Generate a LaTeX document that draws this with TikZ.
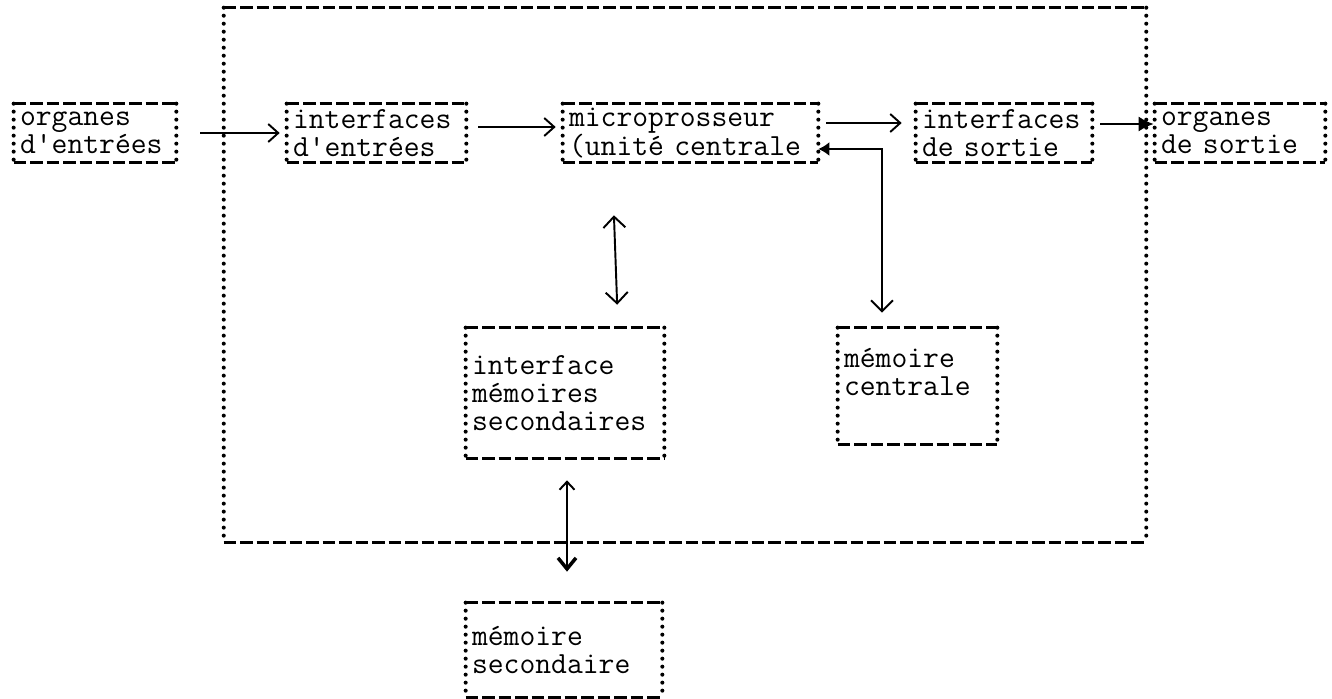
\documentclass[tikz,border=0pt]{standalone}
\usepackage{fontspec}
\usetikzlibrary{arrows.meta, positioning, calc}

% typewriter frames: dashed top and bottom, dotted sides
\tikzset{
    tbox/.style={rectangle, inner xsep=0.12cm, inner ysep=0pt, align=left,
        font={\ttfamily\fontsize{17.5pt}{15.8pt}\selectfont}},
    dashrule/.style={line width=1.5pt, dash pattern=on 0.25cm off 0.08cm},
    dotrule/.style={line width=2.3pt, line cap=round, dash pattern=on 0pt off 0.16cm},
    arrow/.style={-{Straight Barb[length=0.2cm, width=0.36cm]}, line width=1.1pt},
    dblarrow/.style={{Straight Barb[length=0.22cm, width=0.44cm]}-{Straight Barb[length=0.22cm, width=0.44cm]}, line width=1.1pt}
}
\newcommand{\typeframe}[1]{%
    \draw[dashrule] (#1.north west) -- (#1.north east) (#1.south west) -- (#1.south east);
    \draw[dotrule] (#1.north west) -- (#1.south west) (#1.north east) -- (#1.south east);
}

\begin{document}
\begin{tikzpicture}[x=0.02cm, y=-0.02cm]
    \useasboundingbox (0,0) rectangle (1332,699);

    % the computer itself
    \node[tbox, minimum width=18.44cm, minimum height=10.68cm] (ordi) at (685,275) {};
    \typeframe{ordi}

    % top row
    \node[tbox, text width=3.00cm, minimum height=1.16cm] (orgin) at (95,133) {organes\\d'entrées};
    \node[tbox, text width=3.34cm, minimum height=1.16cm] (intin) at (376.5,133) {interfaces\\d'entrées};
    \node[tbox, text width=4.86cm, minimum height=1.16cm] (micro) at (690.5,133) {microprosseur\\(unité centrale};
    \node[tbox, text width=3.28cm, minimum height=1.16cm] (intout) at (1004,133) {interfaces\\de sortie};
    \node[tbox, text width=3.16cm, minimum height=1.16cm] (orgout) at (1240,133) {organes\\de sortie};

    % memories
    \node[tbox, text width=3.72cm, minimum height=2.6cm] (imem) at (565,393) {interface\\mémoires\\secondaires};
    \node[tbox, text width=2.94cm, minimum height=2.32cm] (memc) at (917.5,386) {mémoire\\centrale\\\mbox{}};
    \node[tbox, text width=3.68cm, minimum height=1.88cm] (mems) at (564,650) {mémoire\\secondaire};

    \foreach \b in {orgin, intin, micro, intout, orgout, imem, memc, mems}
        {\typeframe{\b}}

    % data paths
    \draw[arrow, shorten <=0.48cm, shorten >=0.14cm] (orgin) -- (intin);
    \draw[arrow, shorten <=0.24cm, shorten >=0.14cm] ([yshift=0.12cm]intin.east) -- ([yshift=0.12cm]micro.west);
    \draw[arrow, shorten <=0.16cm, shorten >=0.28cm] ([yshift=0.2cm]micro.east) -- ([yshift=0.2cm]intout.west);
    \draw[-{Latex[length=0.3cm, width=0.3cm]}, line width=1.1pt, shorten <=0.16cm, shorten >=0.02cm]
        ([yshift=0.18cm]intout.east) -- ([yshift=0.18cm]orgout.west);
    \draw[{Latex[length=0.22cm, width=0.28cm]}-{Straight Barb[length=0.22cm, width=0.44cm]}, line width=1.1pt, shorten >=0.3cm]
        ([yshift=-0.32cm]micro.east) -| ([xshift=-0.71cm]memc.north);
    \draw[dblarrow, shorten <=1.06cm, shorten >=0.46cm] ([xshift=-1.57cm]micro.south) -- ([xshift=1.06cm]imem.north);
    \draw[{Straight Barb[length=0.16cm, width=0.3cm]}-{Straight Barb[length=0.22cm, width=0.36cm, line width=2pt]}, line width=1.1pt, shorten <=0.44cm, shorten >=0.62cm]
        ([xshift=0.04cm]imem.south) -- ([xshift=0.06cm]mems.north);
\end{tikzpicture}
\end{document}
